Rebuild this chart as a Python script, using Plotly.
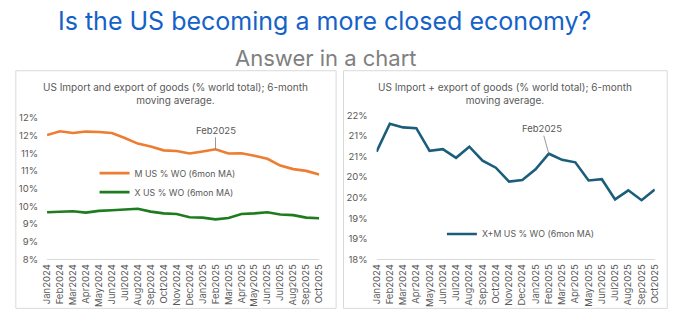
import plotly.graph_objects as go

months = ["Jan2024", "Feb2024", "Mar2024", "Apr2024", "May2024", "Jun2024", "Jul2024",
          "Aug2024", "Sep2024", "Oct2024", "Nov2024", "Dec2024", "Jan2025", "Feb2025",
          "Mar2025", "Apr2025", "May2025", "Jun2025", "Jul2025", "Aug2025", "Sep2025", "Oct2025"]

imports_share = [11.51, 11.62, 11.57, 11.61, 11.60, 11.57, 11.43, 11.27, 11.19, 11.08, 11.06,
                 10.99, 11.05, 11.11, 10.99, 11.00, 10.93, 10.84, 10.65, 10.55, 10.50, 10.40]
exports_share = [9.33, 9.34, 9.36, 9.32, 9.37, 9.39, 9.41, 9.43, 9.35, 9.30, 9.28,
                 9.19, 9.18, 9.13, 9.17, 9.28, 9.30, 9.33, 9.27, 9.25, 9.18, 9.16]
total_share = [20.87, 21.55, 21.46, 21.44, 20.89, 20.93, 20.72, 20.99, 20.65, 20.48, 20.14,
               20.18, 20.44, 20.82, 20.67, 20.61, 20.17, 20.20, 19.71, 19.93, 19.69, 19.95]

left_tickvals = [8, 8.5, 9, 9.5, 10, 10.5, 11, 11.5, 12]
left_ticktext = ["8%", "9%", "9%", "10%", "10%", "11%", "11%", "12%", "12%"]
right_tickvals = [18.25, 18.75, 19.25, 19.75, 20.25, 20.75, 21.25, 21.75]
right_ticktext = ["18%", "19%", "19%", "20%", "20%", "21%", "21%", "22%"]

W, H = 686, 324
FONT = "Inter"
GRAY = "#595959"

def px(x):
    return x / W

def py(y):
    return 1 - y / H

fig = go.Figure()
fig.add_trace(go.Scatter(x=months, y=imports_share, mode="lines", name="M US % WO (6mon MA)",
                         line=dict(color="#ED7D31", width=2.6), xaxis="x", yaxis="y",
                         legend="legend"))
fig.add_trace(go.Scatter(x=months, y=exports_share, mode="lines", name="X US % WO (6mon MA)",
                         line=dict(color="#1E7B1E", width=2.6), xaxis="x", yaxis="y",
                         legend="legend"))
fig.add_trace(go.Scatter(x=months, y=total_share, mode="lines", name="X+M US % WO (6mon MA)",
                         line=dict(color="#1B5E7B", width=2.6), xaxis="x2", yaxis="y2",
                         legend="legend2"))

xcommon = dict(type="category", showgrid=False, showline=True, linecolor="#d9d9d9", linewidth=1,
               tickangle=-90, tickfont=dict(family=FONT, size=9.5, color=GRAY), ticks="",
               zeroline=False, fixedrange=True)
ycommon = dict(showgrid=False, showline=False, zeroline=False, ticks="",
               tickfont=dict(family=FONT, size=9.5, color=GRAY), ticklabelstandoff=8)

shapes = []
for x0, x1 in [(10, 335.5), (343, 672)]:
    shapes.append(dict(type="rect", xref="paper", yref="paper", x0=px(x0), x1=px(x1),
                       y0=py(313), y1=py(67), line=dict(color="#d9d9d9", width=1),
                       fillcolor="white", layer="below"))

annotations = [
    dict(text="Is the US becoming a more closed economy?", xref="paper", yref="paper",
         x=px(324), y=py(16), xanchor="center", yanchor="middle", showarrow=False,
         font=dict(family=FONT, size=25, color="#1462C8")),
    dict(text="Answer in a chart", xref="paper", yref="paper",
         x=px(325), y=py(54), xanchor="center", yanchor="middle", showarrow=False,
         font=dict(family=FONT, size=22, color="#808080")),
    dict(text="US Import and export of goods (% world total); 6-month<br>moving average.",
         xref="paper", yref="paper", x=px(172.5), y=py(91), xanchor="center", yanchor="middle",
         showarrow=False, align="center", font=dict(family=FONT, size=10, color=GRAY)),
    dict(text="US Import + export of goods (% world total); 6-month<br>moving average.",
         xref="paper", yref="paper", x=px(507), y=py(91), xanchor="center", yanchor="middle",
         showarrow=False, align="center", font=dict(family=FONT, size=10, color=GRAY)),
    dict(text="Feb2025", xref="x", yref="y", x="Feb2025", y=imports_share[months.index("Feb2025")],
         ax=0, ay=-19, showarrow=True, arrowhead=0, arrowwidth=0.8, arrowcolor="#7f7f7f",
         font=dict(family=FONT, size=9.5, color=GRAY)),
    dict(text="Feb2025", xref="x2", yref="y2", x="Feb2025", y=total_share[months.index("Feb2025")],
         ax=-7, ay=-25, showarrow=True, arrowhead=0, arrowwidth=0.8, arrowcolor="#7f7f7f",
         font=dict(family=FONT, size=9.5, color=GRAY)),
]

fig.update_layout(
    width=W, height=H, margin=dict(l=0, r=0, t=0, b=0),
    paper_bgcolor="white", plot_bgcolor="rgba(0,0,0,0)",
    font=dict(family=FONT, color=GRAY),
    xaxis=dict(domain=[px(41.7), px(318.3)], anchor="y", **xcommon),
    yaxis=dict(domain=[py(262.3), py(115.7)], range=[8, 12], tickvals=left_tickvals,
               ticktext=left_ticktext, anchor="x", **ycommon),
    xaxis2=dict(domain=[px(376.6), px(659.4)], anchor="y2", **xcommon),
    yaxis2=dict(domain=[py(262.3), py(113.3)], range=[18.25, 21.75], tickvals=right_tickvals,
                ticktext=right_ticktext, anchor="x2", **ycommon),
    legend=dict(x=px(90), y=py(158), xanchor="left", yanchor="top", bgcolor="rgba(0,0,0,0)",
                font=dict(family=FONT, size=8.8, color=GRAY), tracegroupgap=0),
    legend2=dict(x=px(443), y=py(221), xanchor="left", yanchor="top", bgcolor="rgba(0,0,0,0)",
                 font=dict(family=FONT, size=8.8, color=GRAY)),
    shapes=shapes, annotations=annotations, showlegend=True,
)

fig.write_html("out.html")
